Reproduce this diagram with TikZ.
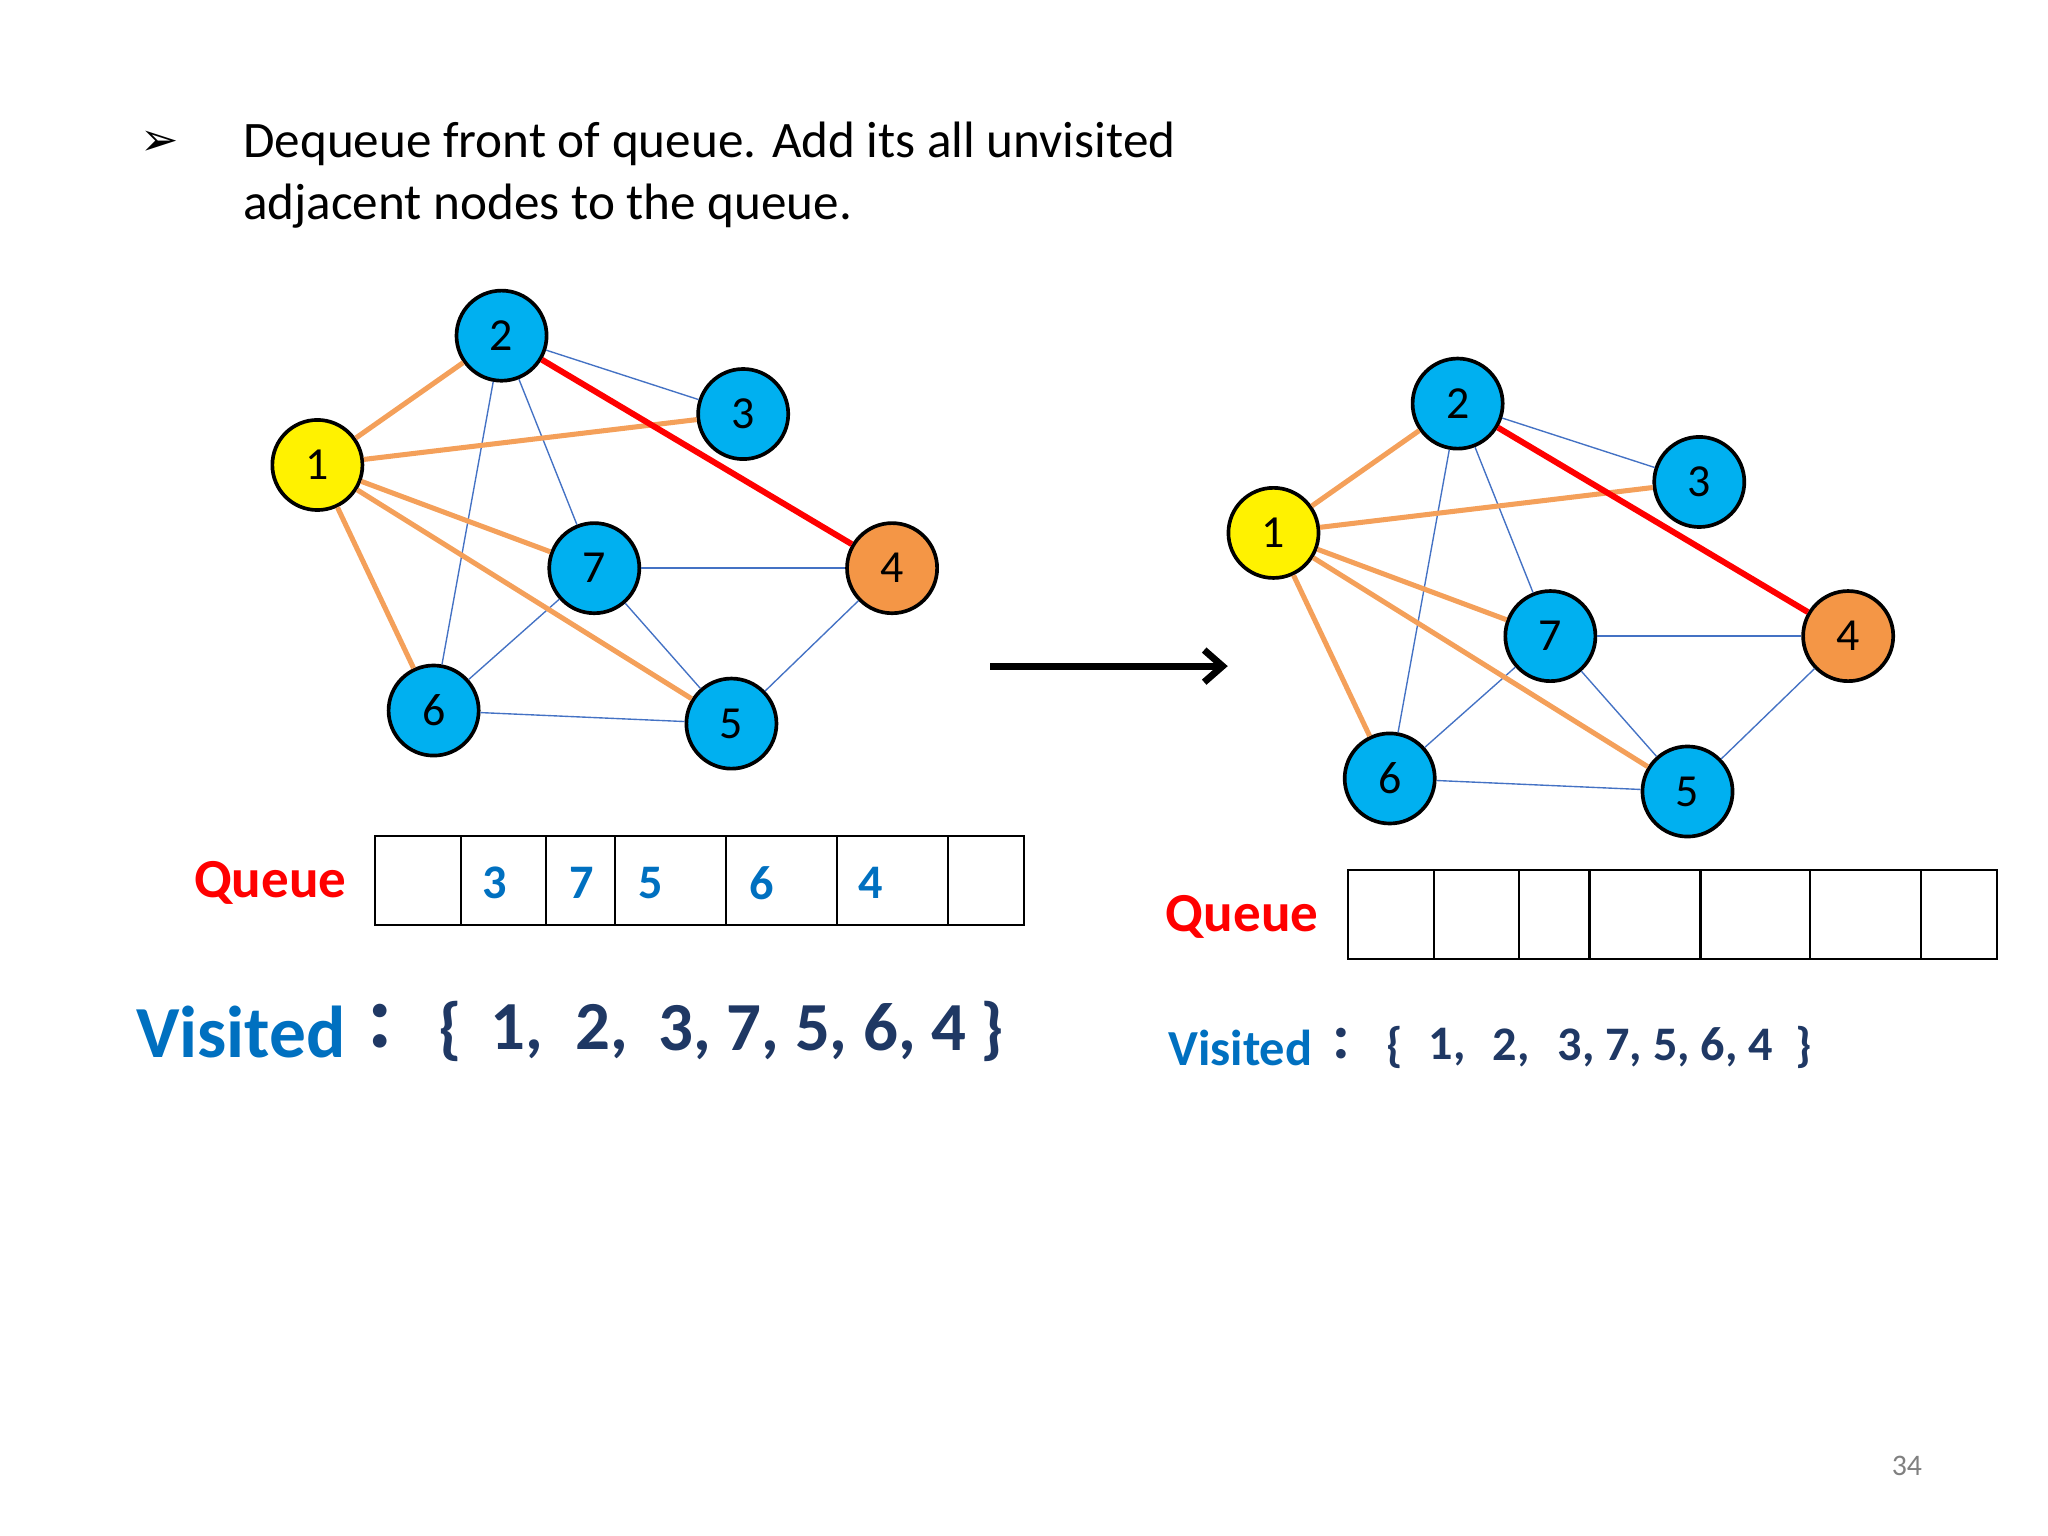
\documentclass[tikz,border=0pt]{standalone}
\usepackage{fontspec}
\setmainfont{Carlito}
\newfontfamily\dvs{DejaVu Sans}
\usetikzlibrary{arrows.meta}
\definecolor{nblue}{RGB}{0,176,240}
\definecolor{nor}{RGB}{244,150,70}
\definecolor{eor}{RGB}{244,160,90}
\definecolor{eblue}{RGB}{68,114,196}
\definecolor{vblue}{RGB}{0,112,192}
\definecolor{dblue}{RGB}{31,56,100}
\begin{document}
\begin{tikzpicture}[x=0.02cm,y=-0.02cm,
  vx/.style={circle,draw=black,line width=1.6pt,fill=nblue,minimum size=1.38cm,inner sep=0pt,font=\fontsize{20}{22}\selectfont},
  oe/.style={eor,line width=2.2pt},
  re/.style={red,line width=2.6pt},
  be/.style={eblue,line width=0.6pt},
  qbox/.style={draw=black,line width=1pt},
  qnum/.style={text=vblue,font=\fontsize{21}{22}\selectfont\bfseries},
  qlab/.style={text=red,font=\fontsize{24}{26}\selectfont\bfseries},
  vL/.style={text=dblue,font=\fontsize{30}{32}\selectfont\bfseries},
  vR/.style={text=dblue,font=\fontsize{21}{23}\selectfont\bfseries}]
\useasboundingbox (0,0) rectangle (1568,1176);
\node[font=\dvs\bfseries\fontsize{20}{22}\selectfont] (bul) at (122,110) {➢};
\node[anchor=west,align=left,font=\fontsize{22.3}{27}\selectfont] (txt) at (180,134) {Dequeue front of queue. Add its all unvisited\\adjacent nodes to the queue.};
\foreach \dx/\dy/\p in {0/0/a,732/52/b}{
\begin{scope}[shift={(\dx,\dy)}]
\node[vx,fill=yellow] (\p1) at (243,356) {1};
\node[vx] (\p2) at (384,257) {2};
\node[vx] (\p3) at (569,317) {3};
\node[vx] (\p7) at (455,435) {7};
\node[vx,fill=nor] (\p4) at (683,435) {4};
\node[vx] (\p6) at (332,544) {6};
\node[vx] (\p5) at (560,554) {5};
\end{scope}
\foreach \u/\v in {2/3,2/6,2/7,7/4,7/6,7/5,6/5,5/4} \draw[be] (\p\u) -- (\p\v);
\foreach \v in {2,3,7,5,6} \draw[oe] (\p1) -- (\p\v);
\draw[re] (\p2) -- (\p4);
}
\draw[line width=3pt,-{Straight Barb[length=8pt,width=14pt]}] (758,510) coordinate (s) -- (940,510) coordinate (e);
% left queue
\draw[qbox] (287,640) rectangle (784,708);
\foreach \x in {353,418,471,556,641,726} \draw[qbox] (\x,640) -- (\x,708);
\foreach \x/\t in {379/3,445/7,498/5,583/6,667/4} \node[qnum] (q\t) at (\x,676) {\t};
\node[qlab] (ql) at (207,676) {Queue};
% right queue
\draw[qbox] (1032,666) rectangle (1529,734);
\foreach \x in {1098,1163,1217,1302,1386,1471} \draw[qbox] (\x,666) -- (\x,734);
\node[qlab] (qr) at (951,702) {Queue};
% visited left
\node[anchor=east,text=vblue,font=\fontsize{32}{34}\selectfont\bfseries] (vl) at (271,790) {Visited};
\node[vL,font=\fontsize{40}{40}\selectfont\bfseries] (vlc) at (291,786) {:};
\node[vL] (vlb) at (345,790) {\{};
\node[vL] (vl1) at (396,790) {1,};
\node[vL] (vl2) at (461,790) {2,};
\node[vL] (vl3) at (622,790) {3, 7, 5, 6, 4};
\node[vL] (vle) at (760,790) {\}};
% visited right
\node[anchor=east,text=vblue,font=\fontsize{22}{24}\selectfont\bfseries] (vr) at (1011,802) {Visited};
\node[vR,font=\fontsize{28}{28}\selectfont\bfseries] (vrc) at (1027,799) {:};
\node[vR] (vrb) at (1068,802) {\{};
\node[vR] (vr1) at (1108,802) {1,};
\node[vR] (vr2) at (1157,802) {2,};
\node[vR] (vr3) at (1275,802) {3, 7, 5, 6, 4};
\node[vR] (vre) at (1381,802) {\}};
\node[text=gray,font=\fontsize{13}{14}\selectfont] (pg) at (1460,1122) {34};
\end{tikzpicture}
\end{document}
